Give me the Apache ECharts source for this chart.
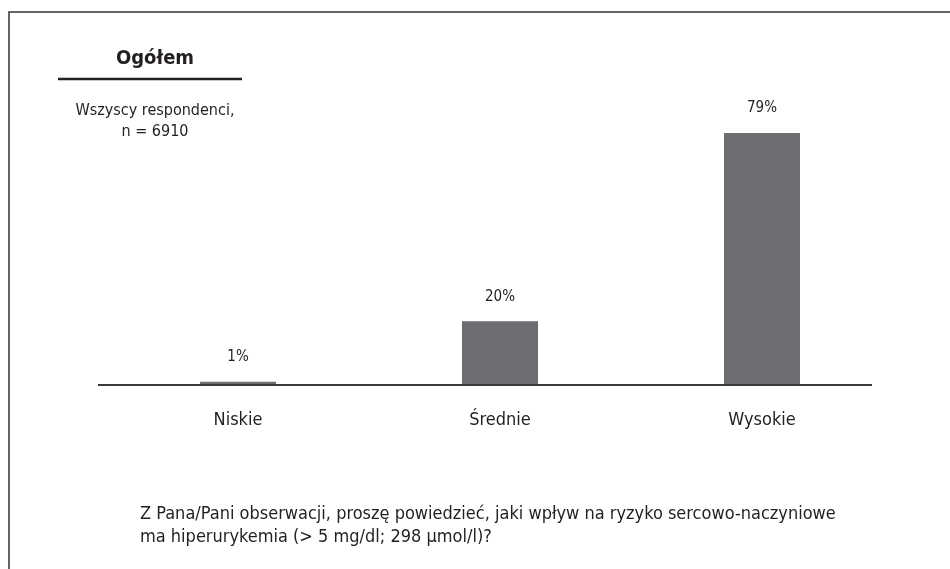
<!DOCTYPE html>
<html>
<head>
<meta charset="utf-8">
<script src="https://cdn.jsdelivr.net/npm/echarts@6/dist/echarts.min.js"></script>
<style>
html, body { margin: 0; padding: 0; background: #fff; }
#chart { width: 950px; height: 569px; }
</style>
</head>
<body>
<div id="chart"></div>
<script>
// dane
var categories = ['Niskie', 'Średnie', 'Wysokie'];
var values = [1, 20, 79];
var panelTitle = 'Ogółem';
var panelSub = 'Wszyscy respondenci,\nn = 6910';
var question = 'Z Pana/Pani obserwacji, proszę powiedzieć, jaki wpływ na ryzyko sercowo-naczyniowe\nma hiperurykemia (> 5 mg/dl; 298 \u00b5mol/l)?';

var font = '"Liberation Sans Narrow", "DejaVu Sans Condensed", sans-serif';
var ink = '#231f20';

var chart = echarts.init(document.getElementById('chart'));
var option = {
	backgroundColor: '#fff',
	textStyle: { fontFamily: font },
	title: [{
		text: panelTitle,
		left: 150, top: 44,
		textAlign: 'center',
		textStyle: { fontFamily: font, fontSize: 20, fontWeight: 'bold', color: ink }
	}, {
		text: panelSub,
		left: 150, top: 95,
		textAlign: 'center',
		textStyle: { fontFamily: font, fontSize: 16, fontWeight: 'normal', color: ink, lineHeight: 21 }
	}, {
		text: question,
		left: 135, top: 498,
		textStyle: { fontFamily: font, fontSize: 18, fontWeight: 'normal', color: ink, lineHeight: 23 }
	}],
	grid: { left: 107, right: 57, top: 66, bottom: 184 },
	xAxis: {
		type: 'category',
		data: categories,
		axisLine: { show: false },
		axisTick: { show: false },
		axisLabel: { margin: 26, fontSize: 18, color: ink, fontFamily: font }
	},
	yAxis: {
		type: 'value',
		min: 0, max: 100,
		show: false
	},
	series: [{
		type: 'bar',
		data: values,
		barWidth: 76,
		itemStyle: { color: '#6d6e71' },
		label: {
			show: true,
			position: 'top',
			distance: 17,
			formatter: '{c}%',
			fontSize: 15,
			color: ink,
			fontFamily: font
		}
	}],
	graphic: [{
		// ramka
		type: 'rect',
		shape: { x: 9, y: 12, width: 1000, height: 700 },
		style: { fill: null, stroke: '#333', lineWidth: 1.5 },
		silent: true
	}, {
		type: 'line',
		shape: { x1: 58, y1: 79, x2: 242, y2: 79 },
		style: { stroke: ink, lineWidth: 2.5 }
	}, {
		// linia bazowa
		type: 'line',
		shape: { x1: 98, y1: 385, x2: 872, y2: 385 },
		style: { stroke: '#3a3a3a', lineWidth: 2 },
		z: 10
	}]
};
chart.setOption(option);
</script>
</body>
</html>
